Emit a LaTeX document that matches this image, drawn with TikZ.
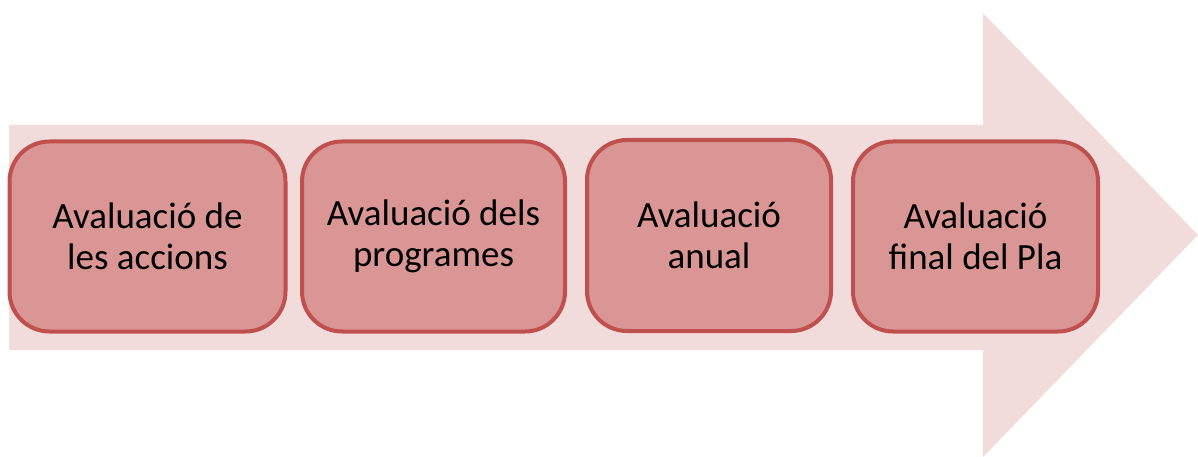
\documentclass[tikz,border=0pt]{standalone}
\usepackage{fontspec}
\setmainfont{Carlito}
\definecolor{arrowfill}{HTML}{F2DCDB}
\definecolor{boxfill}{HTML}{D99694}
\definecolor{boxline}{HTML}{C0504D}
\begin{document}
\begin{tikzpicture}[x=1pt,y=-1pt,
  stepbox/.style={draw=boxline, fill=boxfill, line width=4pt, rounded corners=40pt,
    minimum height=190pt, align=center, inner sep=0pt,
    font=\fontsize{37}{41}\selectfont, text=black}]
\useasboundingbox (0,0) rectangle (1198,457);
\fill[arrowfill] (9,125) -- (983,125) -- (983,13) -- (1198,235) -- (983,457) -- (983,350) -- (9,350) -- cycle;
\node[stepbox, minimum width=276pt] (a) at (147.5,236.5) {Avaluació de\\les accions};
\node[stepbox, minimum width=263pt] (b) at (433.5,236.5) {Avaluació dels\\programes};
\node[stepbox, minimum width=244pt, minimum height=191pt] (c) at (709,235.5) {Avaluació\\anual};
\node[stepbox, minimum width=245pt] (d) at (975.5,236.5) {Avaluació\\final del Pla};
\end{tikzpicture}
\end{document}
